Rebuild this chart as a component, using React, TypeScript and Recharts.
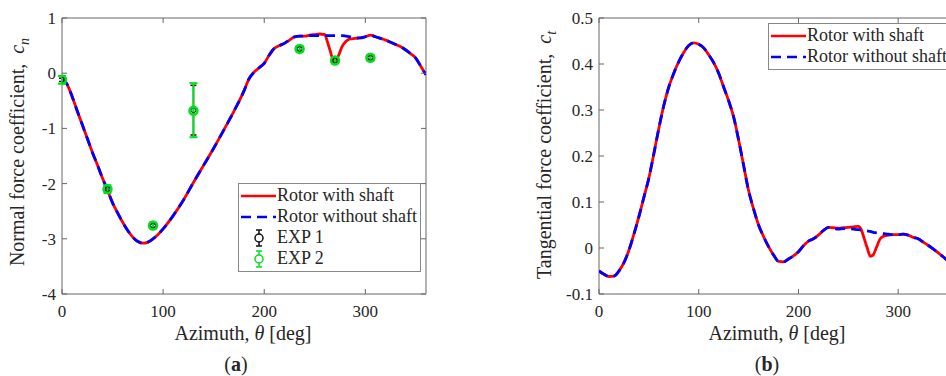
import React from "react";
import {
  ComposedChart,
  Line,
  Scatter,
  ErrorBar,
  XAxis,
  YAxis,
  ReferenceArea,
} from "recharts";

const SERIF = '"Liberation Serif", "Times New Roman", serif';
const AXIS = "#666";
const TEXT = "#262626";
const RED = "#ff0000";
const BLUE = "#0000ff";
const GREEN = "#00e020";

// (a) normal force coefficient
const thetaCn = [0, 5, 10, 15, 20, 25, 30, 35, 40, 45, 50, 55, 60, 65, 70, 75, 80, 85, 90, 95, 100, 110, 120, 130, 140, 150, 160, 170, 180, 185, 190, 195, 200, 205, 210, 215, 220, 225, 230, 235, 240, 245, 250, 255, 260, 262, 265, 269, 273, 277, 281, 285, 290, 295, 300, 305, 310, 315, 320, 325, 330, 335, 340, 345, 350, 355, 360];
const cnShaft = [-0.08, -0.2, -0.42, -0.68, -0.93, -1.18, -1.43, -1.66, -1.9, -2.12, -2.35, -2.53, -2.7, -2.85, -2.97, -3.05, -3.08, -3.06, -3.0, -2.92, -2.82, -2.58, -2.3, -1.98, -1.67, -1.36, -1.03, -0.69, -0.32, -0.1, 0.02, 0.1, 0.18, 0.33, 0.45, 0.5, 0.54, 0.6, 0.66, 0.67, 0.67, 0.69, 0.7, 0.71, 0.7, 0.6, 0.42, 0.22, 0.3, 0.48, 0.58, 0.62, 0.63, 0.64, 0.66, 0.69, 0.66, 0.63, 0.6, 0.56, 0.52, 0.48, 0.42, 0.35, 0.27, 0.12, -0.03];
const cnNoShaft = [-0.08, -0.2, -0.42, -0.68, -0.93, -1.18, -1.43, -1.66, -1.9, -2.12, -2.35, -2.53, -2.7, -2.85, -2.97, -3.05, -3.08, -3.06, -3.0, -2.92, -2.82, -2.58, -2.3, -1.98, -1.67, -1.36, -1.03, -0.69, -0.32, -0.1, 0.02, 0.1, 0.18, 0.33, 0.45, 0.5, 0.54, 0.6, 0.66, 0.67, 0.67, 0.68, 0.68, 0.68, 0.68, 0.68, 0.68, 0.68, 0.68, 0.68, 0.67, 0.66, 0.64, 0.64, 0.66, 0.69, 0.66, 0.63, 0.6, 0.56, 0.52, 0.48, 0.42, 0.35, 0.27, 0.12, -0.03];

// experiments: theta, value, lower / upper error
const expTheta = [0, 45, 90, 130, 235, 270, 305];
const exp1Val = [-0.12, -2.1, -2.76, -0.67, 0.44, 0.23, 0.28];
const exp1Lo = [0.03, 0.03, 0.03, 0.45, 0.03, 0.03, 0.03];
const exp1Hi = [0.03, 0.03, 0.03, 0.45, 0.03, 0.03, 0.03];
const exp2Val = [-0.12, -2.1, -2.76, -0.68, 0.44, 0.23, 0.28];
const exp2Lo = [0.07, 0.07, 0.05, 0.48, 0.05, 0.05, 0.05];
const exp2Hi = [0.07, 0.07, 0.05, 0.5, 0.05, 0.05, 0.05];

// (b) tangential force coefficient
const thetaCt = [0, 5, 10, 15, 20, 25, 30, 35, 40, 45, 50, 55, 60, 65, 70, 75, 80, 85, 90, 95, 100, 105, 110, 115, 120, 125, 130, 135, 140, 145, 150, 155, 160, 165, 170, 175, 180, 185, 190, 195, 200, 205, 210, 215, 220, 225, 230, 235, 240, 245, 250, 255, 260, 263, 266, 269, 272, 275, 278, 282, 286, 290, 295, 300, 305, 310, 315, 320, 325, 330, 335, 340, 345, 350, 355, 360];
const ctShaft = [-0.05, -0.057, -0.062, -0.061, -0.05, -0.032, -0.005, 0.03, 0.068, 0.11, 0.152, 0.205, 0.26, 0.31, 0.35, 0.38, 0.405, 0.425, 0.44, 0.446, 0.443, 0.435, 0.42, 0.403, 0.38, 0.35, 0.32, 0.285, 0.235, 0.18, 0.125, 0.085, 0.05, 0.025, 0.003, -0.015, -0.029, -0.03, -0.024, -0.017, -0.008, 0.005, 0.015, 0.02, 0.028, 0.038, 0.045, 0.044, 0.043, 0.044, 0.045, 0.046, 0.047, 0.04, 0.02, 0.0, -0.018, -0.015, 0.0, 0.02, 0.026, 0.028, 0.029, 0.029, 0.03, 0.028, 0.023, 0.02, 0.013, 0.006, -0.002, -0.01, -0.019, -0.028, -0.038, -0.05];
const ctNoShaft = [-0.05, -0.057, -0.062, -0.061, -0.05, -0.032, -0.005, 0.03, 0.068, 0.11, 0.152, 0.205, 0.26, 0.31, 0.35, 0.38, 0.405, 0.425, 0.44, 0.446, 0.443, 0.435, 0.42, 0.403, 0.38, 0.35, 0.32, 0.285, 0.235, 0.18, 0.125, 0.085, 0.05, 0.025, 0.003, -0.015, -0.029, -0.03, -0.024, -0.017, -0.008, 0.005, 0.015, 0.02, 0.028, 0.038, 0.045, 0.043, 0.041, 0.042, 0.042, 0.041, 0.04, 0.039, 0.038, 0.037, 0.036, 0.034, 0.033, 0.032, 0.031, 0.03, 0.029, 0.029, 0.03, 0.028, 0.023, 0.02, 0.013, 0.006, -0.002, -0.01, -0.019, -0.028, -0.038, -0.05];

const xTicks = [0, 100, 200, 300];
const cnTicks = [-4, -3, -2, -1, 0, 1];
const ctTicks = [-0.1, 0, 0.1, 0.2, 0.3, 0.4, 0.5];

const cnRows = (vals: number[]) => thetaCn.map((t, i) => ({ theta: t, v: vals[i] }));
const ctRows = (vals: number[]) => thetaCt.map((t, i) => ({ theta: t, v: vals[i] }));
const expRows = (vals: number[], lo: number[], hi: number[]) =>
  expTheta.map((t, i) => ({ theta: t, v: vals[i], err: [lo[i], hi[i]] }));

const BOX_H = 276;

function XTick(props: any) {
  const { x, y, payload } = props;
  return (
    <g>
      <line x1={x} y1={y} x2={x} y2={y - 5} stroke={AXIS} />
      <line x1={x} y1={y - BOX_H} x2={x} y2={y - BOX_H + 5} stroke={AXIS} />
      <text x={x} y={y + 23} textAnchor="middle" fontFamily={SERIF} fontSize={17} fill={TEXT}>
        {payload.value}
      </text>
    </g>
  );
}

function YTick(props: any) {
  const { x, y, payload, boxW, fmt } = props;
  return (
    <g>
      <line x1={x} y1={y} x2={x + 5} y2={y} stroke={AXIS} />
      <line x1={x + boxW - 5} y1={y} x2={x + boxW} y2={y} stroke={AXIS} />
      <text x={x - 6} y={y} dy="0.35em" textAnchor="end" fontFamily={SERIF} fontSize={17} fill={TEXT}>
        {fmt(payload.value)}
      </text>
    </g>
  );
}

function Sample({ kind }: { kind: string }) {
  if (kind === "solid")
    return (
      <svg width={37} height={20}>
        <line x1={2} y1={10} x2={37} y2={10} stroke={RED} strokeWidth={2.5} />
      </svg>
    );
  if (kind === "dash")
    return (
      <svg width={37} height={20}>
        <line x1={2} y1={10} x2={37} y2={10} stroke={BLUE} strokeWidth={2.5} strokeDasharray="10 6" />
      </svg>
    );
  const c = kind === "exp1" ? "#111" : GREEN;
  return (
    <svg width={37} height={20}>
      <line x1={20} y1={2} x2={20} y2={18} stroke={c} strokeWidth={1.5} />
      <line x1={17} y1={2} x2={23} y2={2} stroke={c} strokeWidth={1.5} />
      <line x1={17} y1={18} x2={23} y2={18} stroke={c} strokeWidth={1.5} />
      <circle cx={20} cy={10} r={4} fill="white" stroke={c} strokeWidth={1.5} />
    </svg>
  );
}

function LegendBox({ left, top, width, items }: any) {
  return (
    <div
      style={{
        position: "absolute",
        left,
        top,
        width,
        padding: "1px 0 2px 0",
        border: "1px solid #888",
        background: "white",
        fontFamily: SERIF,
        fontSize: 18,
        color: TEXT,
      }}
    >
      {items.map((it: any) => (
        <div key={it.label} style={{ display: "flex", alignItems: "center", height: 21, whiteSpace: "nowrap" }}>
          <Sample kind={it.kind} />
          <span style={{ marginLeft: 1 }}>{it.label}</span>
        </div>
      ))}
    </div>
  );
}

const labelStyle: React.CSSProperties = {
  position: "absolute",
  fontFamily: SERIF,
  fontSize: 20,
  color: TEXT,
  whiteSpace: "nowrap",
  transform: "translate(-50%, -50%)",
};

const dotShape = (color: string, r: number, w: number) => (p: any) =>
  <circle cx={p.cx} cy={p.cy} r={r} fill="none" stroke={color} strokeWidth={w} />;

export default function App() {
  return (
    <div style={{ position: "absolute", left: 0, top: 0, width: 946, height: 376, overflow: "hidden", background: "white" }}>
      <div style={{ position: "absolute", left: 0, top: 0 }}>
        <ComposedChart width={470} height={376} margin={{ top: 18, right: 44, bottom: 52, left: 22 }}>
          <XAxis
            dataKey="theta"
            type="number"
            domain={[0, 360]}
            ticks={xTicks}
            interval={0}
            allowDataOverflow
            height={30}
            axisLine={false}
            tickLine={false}
            tickSize={0}
            tickMargin={0}
            tick={<XTick />}
          />
          <YAxis
            type="number"
            domain={[-4, 1]}
            ticks={cnTicks}
            interval={0}
            allowDataOverflow
            width={40}
            axisLine={false}
            tickLine={false}
            tickSize={0}
            tickMargin={0}
            tick={<YTick boxW={364} fmt={(v: number) => String(v)} />}
          />
          <ReferenceArea x1={0} x2={360} y1={-4} y2={1} fill="none" stroke={AXIS} strokeWidth={1} />
          <Line data={cnRows(cnShaft)} dataKey="v" type="monotone" stroke={RED} strokeWidth={2.8} dot={false} isAnimationActive={false} />
          <Line data={cnRows(cnNoShaft)} dataKey="v" type="monotone" stroke={BLUE} strokeWidth={2.8} strokeDasharray="10 6" dot={false} isAnimationActive={false} />
          <Scatter data={expRows(exp1Val, exp1Lo, exp1Hi)} dataKey="v" shape={dotShape("#111", 2.5, 1)} isAnimationActive={false}>
            <ErrorBar dataKey="err" direction="y" width={3} stroke="#111" strokeWidth={1.5} />
          </Scatter>
          <Scatter data={expRows(exp2Val, exp2Lo, exp2Hi)} dataKey="v" shape={dotShape(GREEN, 4, 2.5)} isAnimationActive={false}>
            <ErrorBar dataKey="err" direction="y" width={4} stroke={GREEN} strokeWidth={2} />
          </Scatter>
        </ComposedChart>
      </div>

      <div style={{ position: "absolute", left: 480, top: 0 }}>
        <ComposedChart width={500} height={376} margin={{ top: 18, right: 22, bottom: 52, left: 79 }}>
          <XAxis
            dataKey="theta"
            type="number"
            domain={[0, 360]}
            ticks={xTicks}
            interval={0}
            allowDataOverflow
            height={30}
            axisLine={false}
            tickLine={false}
            tickSize={0}
            tickMargin={0}
            tick={<XTick />}
          />
          <YAxis
            type="number"
            domain={[-0.1, 0.5]}
            ticks={ctTicks}
            interval={0}
            allowDataOverflow
            width={40}
            axisLine={false}
            tickLine={false}
            tickSize={0}
            tickMargin={0}
            tick={<YTick boxW={359} fmt={(v: number) => (v === 0 ? "0" : v.toFixed(1))} />}
          />
          <ReferenceArea x1={0} x2={360} y1={-0.1} y2={0.5} fill="none" stroke={AXIS} strokeWidth={1} />
          <Line data={ctRows(ctShaft)} dataKey="v" type="monotone" stroke={RED} strokeWidth={2.8} dot={false} isAnimationActive={false} />
          <Line data={ctRows(ctNoShaft)} dataKey="v" type="monotone" stroke={BLUE} strokeWidth={2.8} strokeDasharray="10 6" dot={false} isAnimationActive={false} />
        </ComposedChart>
      </div>

      <div style={{ ...labelStyle, left: 19, top: 152, transform: "translate(-50%, -50%) rotate(-90deg)" }}>
        Normal force coefficient,&nbsp; <i>c</i><sub style={{ fontSize: 14 }}><i>n</i></sub>
      </div>
      <div style={{ ...labelStyle, left: 546, top: 155, transform: "translate(-50%, -50%) rotate(-90deg)" }}>
        Tangential force coefficient,&nbsp; <i>c</i><sub style={{ fontSize: 14 }}><i>t</i></sub>
      </div>
      <div style={{ ...labelStyle, left: 243, top: 333 }}>
        Azimuth, <i>θ</i> [deg]
      </div>
      <div style={{ ...labelStyle, left: 777, top: 333 }}>
        Azimuth, <i>θ</i> [deg]
      </div>
      <div style={{ ...labelStyle, left: 236, top: 364, fontSize: 20 }}>
        (<b>a</b>)
      </div>
      <div style={{ ...labelStyle, left: 767, top: 364, fontSize: 20 }}>
        (<b>b</b>)
      </div>

      <LegendBox
        left={238}
        top={183}
        width={181}
        items={[
          { label: "Rotor with shaft", kind: "solid" },
          { label: "Rotor without shaft", kind: "dash" },
          { label: "EXP 1", kind: "exp1" },
          { label: "EXP 2", kind: "exp2" },
        ]}
      />
      <LegendBox
        left={768}
        top={23}
        width={200}
        items={[
          { label: "Rotor with shaft", kind: "solid" },
          { label: "Rotor without shaft", kind: "dash" },
        ]}
      />
    </div>
  );
}
